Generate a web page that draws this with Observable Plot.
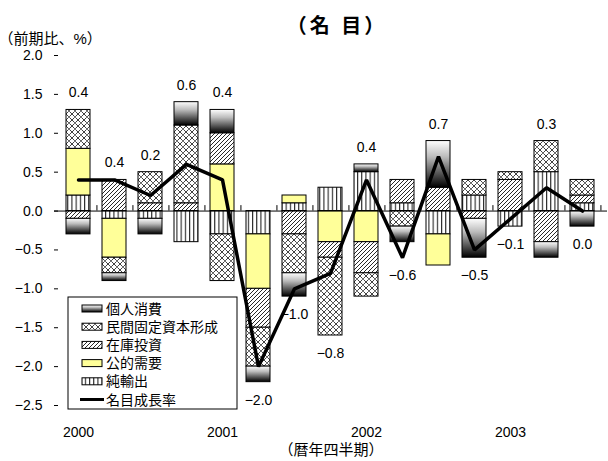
<!DOCTYPE html>
<html>
<head>
<meta charset="utf-8">
<script src="https://cdn.jsdelivr.net/npm/d3@7"></script>
<script src="https://cdn.jsdelivr.net/npm/@observablehq/plot@0.6"></script>
<style>
  html, body { margin: 0; padding: 0; background: #fff; }
  #chart { width: 608px; height: 461px; }
</style>
</head>
<body>
<div id="chart"></div>
<script>
// Quarterly contributions to nominal GDP growth (percentage points, q/q)
const quarters = ["2000Q1","2000Q2","2000Q3","2000Q4","2001Q1","2001Q2","2001Q3","2001Q4",
                  "2002Q1","2002Q2","2002Q3","2002Q4","2003Q1","2003Q2","2003Q3"];
const netExports   = [ 0.2, -0.1, -0.1, -0.4, -0.3, -0.3,  0.1,  0.3,  0.5,  0.1, -0.3,  0.2, -0.2,  0.5,  0.1];
const publicDemand = [ 0.6, -0.5,  0.0,  0.0,  0.6, -0.7,  0.1, -0.4, -0.4,  0.0, -0.4,  0.0,  0.0,  0.0,  0.0];
const inventory    = [-0.1,  0.4,  0.1,  0.1,  0.4, -0.5, -0.3, -0.2, -0.4,  0.3,  0.3, -0.1,  0.4, -0.4,  0.1];
const fixedCapital = [ 0.5, -0.2,  0.4,  1.0, -0.6, -0.5, -0.5, -1.0, -0.3, -0.2,  0.0,  0.2,  0.1,  0.4,  0.2];
const consumption  = [-0.2, -0.1, -0.2,  0.3,  0.3, -0.2, -0.3,  0.0,  0.1, -0.2,  0.6, -0.5,  0.0, -0.2, -0.2];
const growth       = [ 0.4,  0.4,  0.2,  0.6,  0.4, -2.0, -1.0, -0.8,  0.4, -0.6,  0.7, -0.5, -0.1,  0.3,  0.0];
const yTicks = [-2.5, -2.0, -1.5, -1.0, -0.5, 0.0, 0.5, 1.0, 1.5, 2.0];
const yearTicks = ["2000Q1", "2001Q1", "2002Q1", "2003Q1"];

// Stacking order outward from zero (first series sits next to the axis)
const seriesNames = ["純輸出", "公的需要", "在庫投資", "民間固定資本形成", "個人消費"];
const seriesValues = [netExports, publicDemand, inventory, fixedCapital, consumption];
const seriesFills = ["url(#stripes)", "#ffff99", "url(#hatch)", "url(#lattice)", "url(#shade)"];
const legendOrder = ["個人消費", "民間固定資本形成", "在庫投資", "公的需要", "純輸出"];

const rows = [];
quarters.forEach((q, i) => {
  seriesNames.forEach((s, k) => {
    const v = seriesValues[k][i];
    if (v !== 0) rows.push({q, series: s, value: v});
  });
});
const growthRows = quarters.map((q, i) => ({q, value: growth[i]}));

// Value labels sit just beyond the outer end of each bar (or the line point)
const labelRows = quarters.map((q, i) => {
  const parts = seriesValues.map(a => a[i]);
  const top = d3.sum(parts.filter(v => v > 0));
  const bottom = d3.sum(parts.filter(v => v < 0));
  const g = growth[i];
  return {q, g, y: g > 0 ? Math.max(top, g) : Math.min(bottom, g)};
});

const fmt = v => (v < 0 ? "\u2212" : "") + Math.abs(v).toFixed(1);

const W = 608, H = 461, ML = 54, MR = 1, MT = 55, MB = 56;
const step = (W - ML - MR) / quarters.length;

const chart = Plot.plot({
  width: W, height: H,
  marginLeft: ML, marginRight: MR, marginTop: MT, marginBottom: MB,
  style: {fontFamily: '"Liberation Sans", "Noto Sans CJK JP", sans-serif', fontSize: "14px", background: "#fff", color: "#000"},
  x: {domain: quarters, paddingInner: 0.32, paddingOuter: 0.16, axis: null, label: null},
  y: {domain: [-2.5, 2.0], axis: null, label: null},
  color: {domain: seriesNames, range: seriesFills},
  marks: [
    Plot.barY(rows, {x: "q", y: "value", fill: "series", stroke: "#000", strokeWidth: 1}),
    Plot.ruleY([0], {stroke: "#000", strokeWidth: 1}),
    Plot.ruleX(quarters, {x: d => d, y1: 0, y2: 0.07, dx: step / 2, stroke: "#000", strokeWidth: 1}),
    Plot.line(growthRows, {x: "q", y: "value", stroke: "#000", strokeWidth: 3.5, strokeLinejoin: "miter"}),
    Plot.text(labelRows.filter(d => d.g > 0), {x: "q", y: "y", text: d => fmt(d.g), dy: -17, fontSize: 14}),
    Plot.text(labelRows.filter(d => d.g <= 0), {x: "q", y: "y", text: d => fmt(d.g), dy: 18, fontSize: 14}),
    Plot.axisY(yTicks, {anchor: "left", label: null, tickSize: -4, tickPadding: 16, line: true, tickFormat: fmt, fontSize: 14}),
    Plot.axisX(yearTicks, {anchor: "bottom", label: null, tickSize: 0, tickPadding: 22, tickFormat: d => d.slice(0, 4), fontSize: 14}),
    Plot.text(["（名 目）"], {frameAnchor: "top", dx: 6, dy: -37, fontSize: 20, fontWeight: "bold", className: "chart-title"}),
    Plot.text(["（前期比、%）"], {frameAnchor: "top-left", dx: -56, dy: -22, textAnchor: "start", fontSize: 15}),
    Plot.text(["（暦年四半期）"], {frameAnchor: "bottom", dy: 49, fontSize: 15})
  ]
});

// Fill patterns and the shaded gradient used by the bars and legend
const svg = d3.select(chart);
svg.selectAll(".chart-title text").style("letter-spacing", "3px");
const defs = svg.insert("defs", ":first-child");

const stripes = defs.append("pattern").attr("id", "stripes")
  .attr("patternUnits", "userSpaceOnUse").attr("width", 4.2).attr("height", 4);
stripes.append("rect").attr("width", 4.2).attr("height", 4).attr("fill", "#fff");
stripes.append("rect").attr("x", 0).attr("width", 1.1).attr("height", 4).attr("fill", "#222");

const hatch = defs.append("pattern").attr("id", "hatch")
  .attr("patternUnits", "userSpaceOnUse").attr("width", 4).attr("height", 4);
hatch.append("rect").attr("width", 4).attr("height", 4).attr("fill", "#fff");
hatch.append("path").attr("d", "M-1,1L1,-1M0,4L4,0M3,5L5,3")
  .attr("stroke", "#111").attr("stroke-width", 0.9);

const lattice = defs.append("pattern").attr("id", "lattice")
  .attr("patternUnits", "userSpaceOnUse").attr("width", 6).attr("height", 6);
lattice.append("rect").attr("width", 6).attr("height", 6).attr("fill", "#fff");
lattice.append("path").attr("d", "M0,0L6,6M6,0L0,6")
  .attr("stroke", "#111").attr("stroke-width", 0.8);
lattice.append("circle").attr("cx", 3).attr("cy", 3).attr("r", 0.6).attr("fill", "#fff");

const shade = defs.append("linearGradient").attr("id", "shade")
  .attr("x1", 0).attr("y1", 0).attr("x2", 0).attr("y2", 1);
shade.append("stop").attr("offset", "0%").attr("stop-color", "#fff");
shade.append("stop").attr("offset", "35%").attr("stop-color", "#bbb");
shade.append("stop").attr("offset", "100%").attr("stop-color", "#000");

// Legend box in the lower left of the plot area
const legend = svg.append("g").attr("transform", "translate(68,297)")
  .attr("font-family", '"Noto Sans CJK JP", "Liberation Sans", sans-serif')
  .attr("font-size", 14).attr("text-anchor", "start");
legend.append("rect").attr("width", 169).attr("height", 112)
  .attr("fill", "#fff").attr("stroke", "#000").attr("stroke-width", 1);
const rowGap = 18.2;
legendOrder.forEach((name, i) => {
  const cy = 11.5 + i * rowGap;
  const k = seriesNames.indexOf(name);
  legend.append("rect").attr("x", 14).attr("y", cy - 3.5).attr("width", 20).attr("height", 7)
    .attr("fill", seriesFills[k]).attr("stroke", "#000").attr("stroke-width", 1);
  legend.append("text").attr("x", 38).attr("y", cy).attr("dy", "0.36em")
    .attr("text-anchor", "start").text(name);
});
{
  const cy = 11.5 + legendOrder.length * rowGap;
  legend.append("line").attr("x1", 12).attr("x2", 36).attr("y1", cy).attr("y2", cy)
    .attr("stroke", "#000").attr("stroke-width", 3);
  legend.append("text").attr("x", 38).attr("y", cy).attr("dy", "0.36em")
    .attr("text-anchor", "start").text("名目成長率");
}

document.getElementById("chart").appendChild(chart);
</script>
</body>
</html>
